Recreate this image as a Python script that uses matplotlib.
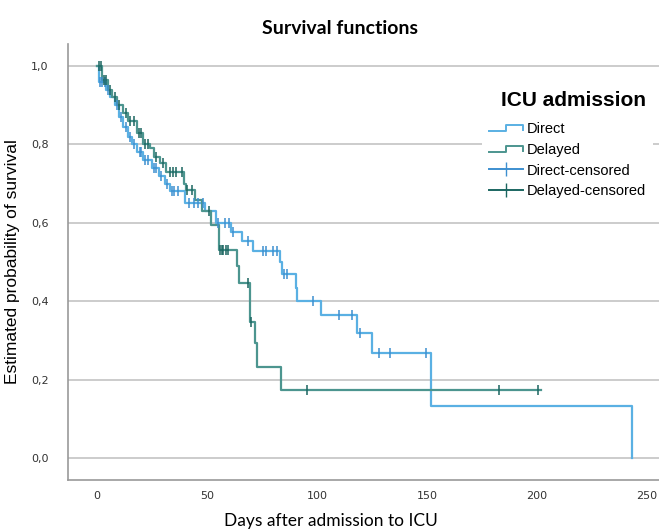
import numpy as np
import matplotlib.pyplot as plt
from matplotlib.lines import Line2D
from matplotlib.legend_handler import HandlerBase

# Datos (dias, supervivencia tras cada caida)
direct_t = [0, 1, 4, 6, 8, 10, 12, 14, 16, 18, 21, 25, 28, 31, 33, 40, 49, 54,
            61, 66, 71, 83, 84, 90.5, 91, 102, 118, 125, 152, 243]
direct_s = [1.0, 0.96, 0.94, 0.92, 0.90, 0.87, 0.845, 0.82, 0.80, 0.78, 0.76, 0.74,
            0.72, 0.70, 0.68, 0.65, 0.63, 0.60, 0.577, 0.553, 0.528, 0.50, 0.47,
            0.434, 0.40, 0.365, 0.319, 0.268, 0.133, 0.0]
direct_cens = [1.5, 2.5, 3.5, 5, 9, 11, 13, 15, 17, 19.5, 20, 22, 23, 26, 27, 29,
               32, 34, 35, 37, 42, 44, 46, 48, 55, 58, 60, 62, 68.5, 75.5, 77,
               80, 82, 85, 86.5, 98, 110, 116, 119.5, 128, 133, 149.4]

delayed_t = [0, 2.5, 5, 7, 9, 12, 14, 18, 21, 24, 26, 28.5, 31.5, 39.5, 40.5, 44.5,
             47.6, 52, 55.5, 63.5, 64.5, 69.5, 71.8, 72.6, 83.5]
delayed_s = [1.0, 0.964, 0.94, 0.92, 0.90, 0.88, 0.86, 0.83, 0.80, 0.79, 0.768, 0.753,
             0.73, 0.70, 0.684, 0.658, 0.629, 0.594, 0.531, 0.49, 0.447, 0.348,
             0.293, 0.233, 0.174]
delayed_end = 202
delayed_cens = [1, 2, 3, 4, 6, 8, 10, 13, 15, 17, 19, 20, 22, 23, 27, 30, 33, 34.5,
                36, 38.5, 41, 43, 51, 56, 57, 57.5, 58.5, 59.5, 68.8, 70, 95.3,
                182.7, 200.3]

col_direct = '#5ab0e3'
col_delayed = '#4c958f'
col_direct_c = '#3d8fd0'
col_delayed_c = '#1b6661'


def surv_at(t, times, surv):
    i = np.searchsorted(times, t, side='right') - 1
    return np.array(surv)[i]


class StepHandler(HandlerBase):
    def create_artists(self, legend, orig_handle, xd, yd, w, h, fontsize, trans):
        xs = [-xd, -xd + w * 0.5, -xd + w * 0.5, -xd + w, -xd + w]
        ys = [h * 0.2, h * 0.2, h * 0.8, h * 0.8, h * 0.3]
        ln = Line2D(xs, ys, color=orig_handle.get_color(), lw=1.4, transform=trans)
        return [ln]


fig = plt.figure(figsize=(6.59, 5.31), dpi=100)
ax = fig.add_axes([0.103, 0.096, 0.897, 0.821])

# Curvas escalonadas
ax.step(direct_t, direct_s, where='post', color=col_direct, lw=1.6, zorder=3)
ax.step(delayed_t + [delayed_end], delayed_s + [delayed_s[-1]], where='post',
        color=col_delayed, lw=1.6, zorder=3)

# Marcas de censura
ax.plot(direct_cens, surv_at(direct_cens, direct_t, direct_s), ls='none',
        marker='|', ms=7, mew=1.1, color=col_direct_c, zorder=4)
ax.plot(delayed_cens, surv_at(delayed_cens, delayed_t, delayed_s), ls='none',
        marker='|', ms=7, mew=1.1, color=col_delayed_c, zorder=4)

ax.set_xlim(-13.2, 255.5)
ax.set_ylim(-0.056, 1.056)
ax.set_xticks([0, 50, 100, 150, 200, 250])
ax.set_yticks([0, 0.2, 0.4, 0.6, 0.8, 1.0])
ax.set_yticklabels(['0,0', '0,2', '0,4', '0,6', '0,8', '1,0'])
ax.tick_params(axis='both', length=0, labelsize=8, colors='#333333', pad=8)
ax.tick_params(axis='y', pad=14)
ax.yaxis.grid(True, color='#cccccc', lw=1.4)
ax.set_axisbelow(True)
for s in ['top', 'right']:
    ax.spines[s].set_visible(False)
for s in ['left', 'bottom']:
    ax.spines[s].set_color('#999999')
    ax.spines[s].set_linewidth(1.2)

ax.set_title('Survival functions', fontsize=14, fontweight='bold', family='Lato',
             x=0.46, pad=7)
ax.set_xlabel('Days after admission to ICU', fontsize=12.5, family='Lato', labelpad=7)
ax.xaxis.set_label_coords(0.445, -0.075)
ax.set_ylabel('Estimated probability of survival', fontsize=12.5,
              family='Liberation Sans', labelpad=8)

handles = [Line2D([], [], color=col_direct),
           Line2D([], [], color=col_delayed),
           Line2D([], [], color=col_direct_c, marker='|', ms=10, lw=1.4),
           Line2D([], [], color=col_delayed_c, marker='|', ms=10, lw=1.4)]
labels = ['Direct', 'Delayed', 'Direct-censored', 'Delayed-censored']
leg = ax.legend(handles, labels, loc='upper left', bbox_to_anchor=(0.688, 0.926),
                frameon=True, framealpha=1, edgecolor='none', fancybox=False,
                title='ICU admission', handlelength=2.3, handletextpad=0.25,
                labelspacing=0.45, borderpad=0.5,
                prop={'family': 'Liberation Sans', 'size': 10.5},
                handler_map={handles[0]: StepHandler(), handles[1]: StepHandler()})
leg.get_title().set_fontproperties({'family': 'Liberation Sans', 'weight': 'bold', 'size': 15})
leg._legend_box.align = 'right'
leg._legend_box.sep = 9

fig.savefig('out.png', dpi=100)
